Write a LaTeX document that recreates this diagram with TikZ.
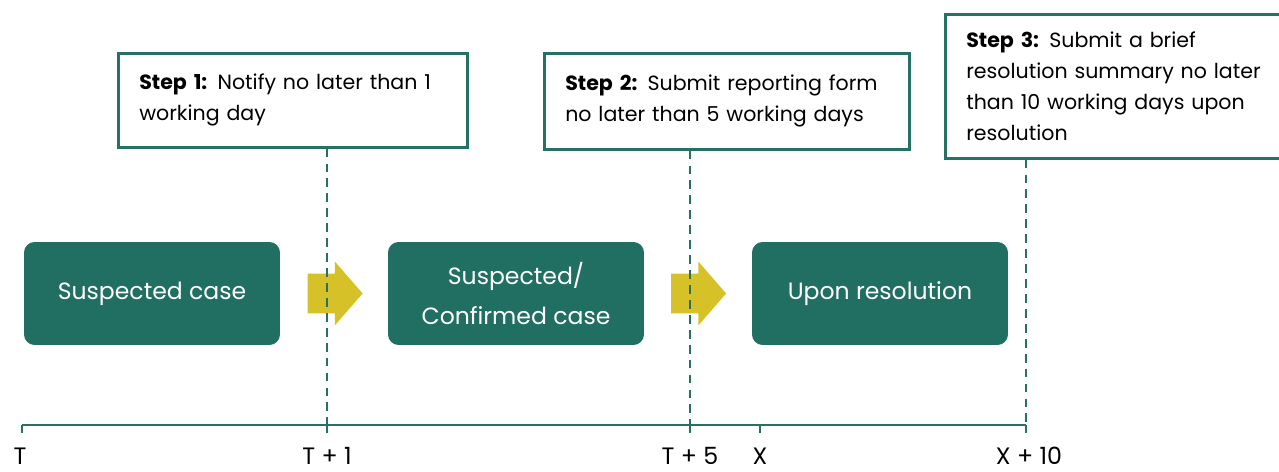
\documentclass[tikz,border=0pt]{standalone}
\usepackage{fontspec}
\setmainfont{Poppins}
\usetikzlibrary{shapes.arrows, positioning}
\definecolor{casegreen}{RGB}{33,110,98}
\definecolor{stepgreen}{RGB}{38,112,100}
\definecolor{moveyellow}{RGB}{214,194,40}
\tikzset{
  casebox/.style={rectangle, fill=casegreen, rounded corners=6pt,
    minimum width=5.12cm, minimum height=2.06cm, align=center,
    text=white, font=\fontsize{13.4}{23}\selectfont},
  stepbox/.style={rectangle, draw=stepgreen, fill=white, line width=1.5pt,
    anchor=north west, align=left, inner xsep=0.42cm, inner ysep=0pt,
    font=\fontsize{11.7}{17.6}\selectfont},
  marker/.style={draw=stepgreen, line width=1.5pt, dash pattern=on 5pt off 3.5pt},
  axis/.style={draw=stepgreen, line width=0.8pt},
  tlabel/.style={font=\fontsize{13.5}{16}\selectfont, anchor=base, inner sep=0pt},
  moveon/.style={single arrow, fill=moveyellow, draw=none, inner xsep=0pt,
    inner ysep=0.39cm, minimum width=0pt, minimum height=1.1cm,
    single arrow head extend=0.24cm, single arrow tip angle=98}
}
\begin{document}
\begin{tikzpicture}[x=0.02cm, y=-0.02cm]
  \useasboundingbox (0,0) rectangle (1279,472);

  % case blocks and the arrows between them
  \node [casebox] (suspected) at (152,293.5) {Suspected case};
  \node [casebox] (confirmed) at (516,293.5) {Suspected/\\Confirmed case};
  \node [casebox] (resolved) at (880,293.5) {Upon resolution};
  \node [moveon] (move1) at (326.5,293.5) {};
  \node [moveon] (move2) at (690,293.5) {};

  % reporting steps
  \node [stepbox, text width=6.14cm, minimum height=1.88cm] (step1) at (117,52)
    {\textbf{Step 1:} Notify no later than 1\\working day};
  \node [stepbox, text width=6.46cm, minimum height=1.92cm] (step2) at (543,52)
    {\textbf{Step 2:} Submit reporting form\\no later than 5 working days};
  \node [stepbox, text width=6.3cm, minimum height=2.88cm] (step3) at (944,13)
    {\textbf{Step 3:} Submit a brief\\resolution summary no later\\than 10 working days upon\\resolution};

  % time axis
  \coordinate (t0) at (22,425);
  \coordinate (t1) at (327,425);
  \coordinate (t5) at (690,425);
  \coordinate (x0) at (760,425);
  \coordinate (x10) at (1026,425);
  \draw [axis] (t0) -- (x10);
  \foreach \c in {t0,t1,t5,x0,x10}
    \draw [axis] (\c) -- ++(0,8);

  % deadlines
  \draw [marker] (step1.south -| t1) -- (t1);
  \draw [marker] (step2.south -| t5) -- (t5);
  \draw [marker] (step3.south -| x10) -- (x10);

  \node [tlabel] (lt0) at (20,465) {T};
  \node [tlabel] (lt1) at (327,465) {T + 1};
  \node [tlabel] (lt5) at (690,465) {T + 5};
  \node [tlabel] (lx0) at (760,465) {X};
  \node [tlabel] (lx10) at (1029,465) {X + 10};
\end{tikzpicture}
\end{document}
